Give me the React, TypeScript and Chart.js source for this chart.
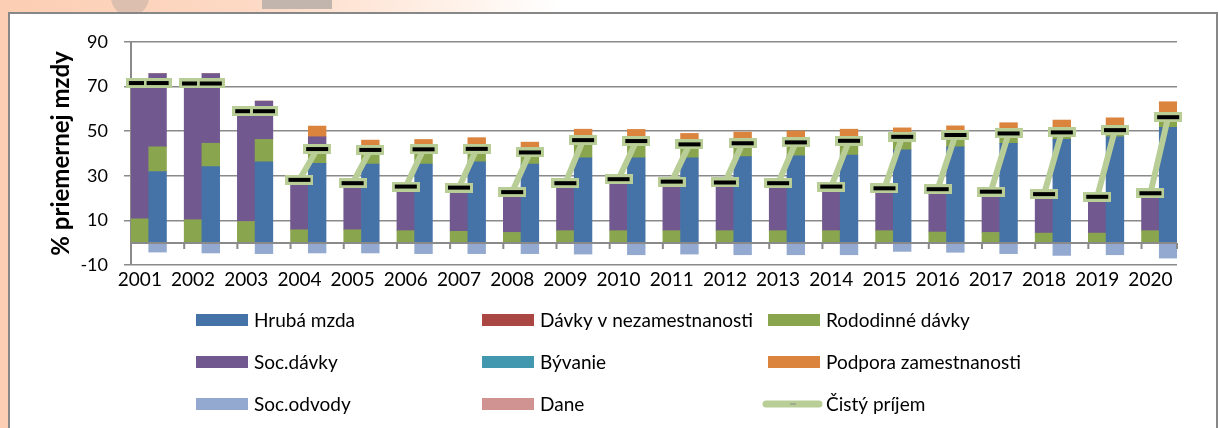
import React, { useEffect, useRef } from 'react';
import { Chart, registerables } from 'chart.js';

Chart.register(...registerables);

// ---------- DATA ----------
const years = ['2001', '2002', '2003', '2004', '2005', '2006', '2007', '2008', '2009', '2010',
  '2011', '2012', '2013', '2014', '2015', '2016', '2017', '2018', '2019', '2020'];

// left bar of each year
const leftRodinne = [10.7, 10.3, 9.5, 5.8, 5.8, 5.4, 5.1, 4.6, 5.4, 5.4, 5.4, 5.4, 5.4, 5.4, 5.4, 4.8, 4.6, 4.3, 4.3, 5.4];
const leftSocDavky = [60.9, 61.1, 49.5, 22.4, 20.9, 19.8, 19.6, 18.1, 21.3, 23.1, 22.0, 21.6, 21.3, 19.8, 19.0, 19.2, 18.3, 17.5, 16.3, 16.8];
const leftCisty = [71.6, 71.4, 59.0, 28.2, 26.7, 25.2, 24.7, 22.7, 26.7, 28.5, 27.4, 27.0, 26.7, 25.2, 24.4, 24.0, 22.9, 21.8, 20.6, 22.2];

// right bar of each year
const rightHruba = [31.9, 34.1, 36.3, 35.6, 35.3, 35.3, 36.3, 35.2, 38.1, 38.1, 38.1, 38.6, 39.0, 39.3, 41.6, 43.0, 44.6, 46.3, 47.5, 51.7];
const rightRodinne = [11.1, 10.5, 10.0, 4.5, 7.7, 7.7, 7.2, 6.3, 8.9, 8.9, 7.4, 7.4, 7.5, 7.7, 6.9, 6.5, 5.9, 4.2, 4.5, 5.3];
const rightSocDavky = [32.8, 31.2, 17.2, 7.4, 0, 0, 0, 0, 0, 0, 0, 0, 0, 0, 0, 0, 0, 0, 0, 0];
const rightPodpora = [0, 0, 0, 4.8, 3.0, 3.3, 3.6, 3.6, 3.9, 3.8, 3.5, 3.6, 3.6, 3.9, 3.0, 2.9, 3.3, 4.5, 4.0, 6.2];
const rightSocOdvody = [-4.2, -4.6, -4.9, -4.6, -4.6, -4.9, -4.9, -4.9, -5.1, -5.4, -5.1, -5.4, -5.4, -5.4, -3.9, -4.3, -4.9, -5.7, -5.4, -6.9];
const rightCisty = [71.6, 71.4, 59.0, 42.0, 41.6, 41.9, 42.1, 40.5, 46.0, 45.6, 44.1, 44.6, 45.0, 45.7, 47.5, 48.3, 49.0, 49.5, 50.5, 56.3];

const noValues: (number | null)[] = years.map(() => null);

const yTicks = [-10, 10, 30, 50, 70, 90];

const seriesNames = ['Hrubá mzda', 'Dávky v nezamestnanosti', 'Rododinné dávky', 'Soc.dávky', 'Bývanie',
  'Podpora zamestnanosti', 'Soc.odvody', 'Dane', 'Čistý príjem'];
const seriesColors = ['#4572A7', '#AA4643', '#89A54E', '#71588F', '#4198AF', '#DB843D', '#93A9CF', '#D19392', '#B9CD96'];

// ---------- helpers ----------
// three slots per year: left bar, right bar, empty gap (last gap omitted)
function slots(left: (number | null)[], right: (number | null)[]) {
  const out: (number | null)[] = [];
  years.forEach((_, i) => {
    out.push(left[i]);
    out.push(right[i]);
    if (i < years.length - 1) out.push(null);
  });
  return out;
}
const slotLabels: string[] = [];
years.forEach((y, i) => {
  slotLabels.push(y);
  slotLabels.push('');
  if (i < years.length - 1) slotLabels.push('');
});

const FONT = 'Lato, "Liberation Sans", sans-serif';

export default function App() {
  const ref = useRef<HTMLCanvasElement>(null);

  useEffect(() => {
    document.body.style.margin = '0';
    const canvas = ref.current!;

    const marker = document.createElement('canvas');
    marker.width = 28;
    marker.height = 10;
    const m = marker.getContext('2d')!;
    m.fillStyle = seriesColors[8];
    m.fillRect(0, 0, 28, 10);
    m.fillStyle = '#000';
    m.fillRect(3, 3, 22, 4);

    const zeroLine = {
      id: 'zeroLine',
      afterDatasetsDraw(chart: any) {
        const { ctx, chartArea, scales } = chart;
        const x = scales.x;
        const y0 = Math.round(scales.y.getPixelForValue(0));
        const slotW = (chartArea.right - chartArea.left) / slotLabels.length;
        ctx.save();
        ctx.strokeStyle = '#8a8a8a';
        ctx.lineWidth = 2;
        ctx.beginPath();
        ctx.moveTo(chartArea.left, y0);
        ctx.lineTo(chartArea.right, y0);
        for (let k = 0; k <= years.length; k++) {
          const xx = k < years.length ? x.getPixelForValue(3 * k) - slotW / 2 : chartArea.right;
          ctx.moveTo(xx, y0);
          ctx.lineTo(xx, y0 + 6);
        }
        ctx.stroke();
        ctx.restore();
      },
    };

    const legendCols = [196, 482, 768];
    const legendRows = [320, 362, 404];
    const customLegend = {
      id: 'customLegend',
      afterDraw(chart: any) {
        const { ctx } = chart;
        ctx.save();
        ctx.font = `19px ${FONT}`;
        ctx.textBaseline = 'middle';
        ctx.fillStyle = '#000';
        chart.data.datasets.forEach((ds: any, i: number) => {
          const cx = legendCols[i % 3];
          const cy = legendRows[Math.floor(i / 3)];
          if (ds.type === 'line') {
            ctx.strokeStyle = seriesColors[8];
            ctx.lineWidth = 7;
            ctx.lineCap = 'round';
            ctx.beginPath();
            ctx.moveTo(cx - 2, cy);
            ctx.lineTo(cx + 51, cy);
            ctx.stroke();
            ctx.strokeStyle = '#888';
            ctx.lineWidth = 1;
            ctx.lineCap = 'butt';
            ctx.beginPath();
            ctx.moveTo(cx + 22, cy);
            ctx.lineTo(cx + 28, cy);
            ctx.stroke();
          } else {
            ctx.fillStyle = seriesColors[i];
            ctx.fillRect(cx, cy - 6, 52, 12);
          }
          ctx.fillStyle = '#000';
          ctx.fillText(ds.label, cx + 58, cy + 1);
        });
        ctx.restore();
      },
    };

    const barDs = (i: number, left: (number | null)[], right: (number | null)[]) => ({
      type: 'bar' as const,
      label: seriesNames[i],
      data: slots(left, right),
      backgroundColor: seriesColors[i],
      borderWidth: 0,
      categoryPercentage: 1,
      barPercentage: 1,
      stack: 'bars',
      order: 1,
    });

    const chart = new Chart(canvas, {
      type: 'bar',
      data: {
        labels: slotLabels,
        datasets: [
          barDs(0, noValues, rightHruba),
          barDs(1, noValues, noValues),
          barDs(2, leftRodinne, rightRodinne),
          barDs(3, leftSocDavky, rightSocDavky),
          barDs(4, noValues, noValues),
          barDs(5, noValues, rightPodpora),
          barDs(6, noValues, rightSocOdvody),
          barDs(7, noValues, noValues),
          {
            type: 'line' as const,
            label: seriesNames[8],
            data: slots(leftCisty, rightCisty),
            borderColor: seriesColors[8],
            backgroundColor: seriesColors[8],
            borderWidth: 6,
            pointStyle: marker as any,
            pointRadius: 5,
            spanGaps: false,
            stack: 'net',
            order: 0,
          } as any,
        ],
      },
      options: {
        animation: false,
        responsive: false,
        events: [],
        layout: { padding: { left: 0, right: 42, top: 42, bottom: 133 } },
        plugins: { legend: { display: false }, tooltip: { enabled: false } },
        scales: {
          x: {
            stacked: true,
            offset: true,
            grid: { display: false },
            border: { display: false },
            ticks: {
              autoSkip: false,
              maxRotation: 0,
              minRotation: 0,
              padding: -5,
              color: '#000',
              font: { family: FONT, size: 19 },
            },
            afterFit: (s: any) => { s.height = 30; },
          },
          y: {
            stacked: true,
            min: -10,
            max: 90,
            afterBuildTicks: (s: any) => { s.ticks = yTicks.map((v) => ({ value: v })); },
            ticks: { stepSize: 20, padding: 16, color: '#000', font: { family: FONT, size: 18 } },
            grid: { color: '#8a8a8a', lineWidth: 1.5, tickLength: 7 },
            border: { display: true, color: '#8a8a8a', width: 2 },
            title: {
              display: true,
              text: '% priemernej mzdy',
              color: '#000',
              font: { family: FONT, size: 24, weight: 'bold' },
              padding: { top: 47, bottom: 0 },
            },
            afterFit: (s: any) => { s.width = 131; },
          },
        },
      },
      plugins: [zeroLine, customLegend],
    });
    return () => chart.destroy();
  }, []);

  return (
    <div style={{ position: 'relative', width: 1219, height: 428, overflow: 'hidden',
      background: 'linear-gradient(to right, #fcceb3 0px, #fdd9c4 250px, #fff1e8 450px, #ffffff 560px)' }}>
      <div style={{ position: 'absolute', left: 111, top: -22, width: 38, height: 38, borderRadius: '50%', background: '#dcbfae' }} />
      <div style={{ position: 'absolute', left: 262, top: 0, width: 70, height: 9, background: '#c2b5ad' }} />
      <div style={{ position: 'absolute', left: 8, top: 12, width: 1206, height: 430, border: '2px solid #878787', background: '#fff' }} />
      <canvas ref={ref} width={1219} height={428} style={{ position: 'absolute', left: 0, top: 0 }} />
    </div>
  );
}
